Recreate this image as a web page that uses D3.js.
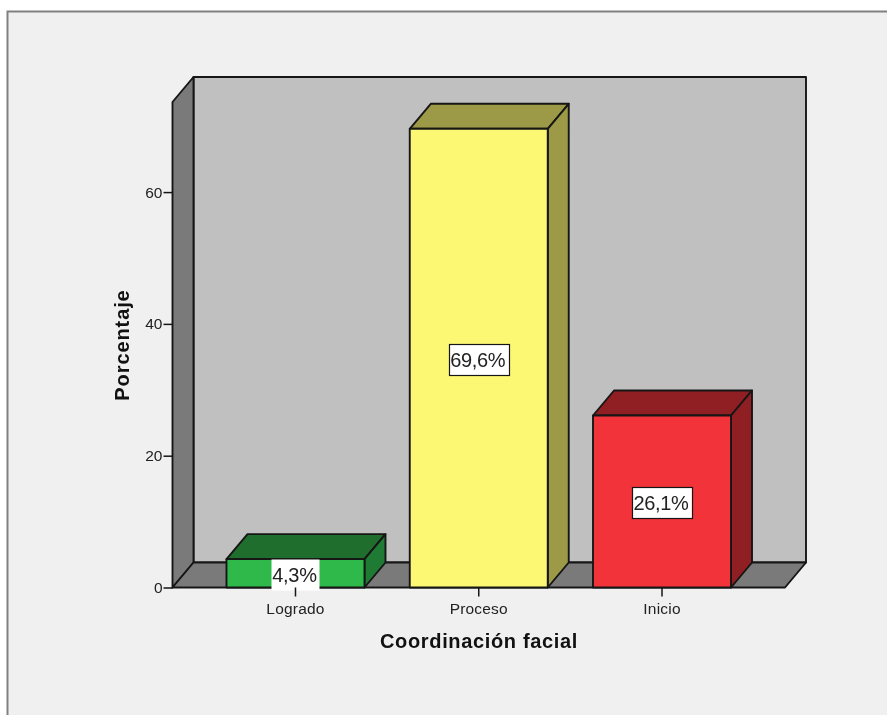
<!DOCTYPE html>
<html><head><meta charset="utf-8">
<script src="https://cdn.jsdelivr.net/npm/d3@7"></script>
<style>html,body{margin:0;padding:0;background:#fff}svg{display:block;filter:blur(0.45px)}text{font-family:"Liberation Sans",Arial,sans-serif;fill:#222}</style>
</head><body><svg id="c" width="887" height="717"></svg>
<script>
const categories = ["Logrado","Proceso","Inicio"];
const values = [4.3,69.6,26.1];
const valueLabels = ["4,3%","69,6%","26,1%"];
const frontColors = ["#2fb94b","#fdf873","#f23339"];
const sideColors = ["#1f7a33","#9c9947","#8f1f22"];
const topColors = ["#1f6e2e","#9c9947","#8f1f22"];
const yTicks = [0,20,40,60];
const xTitle = "Coordinación facial";
const yTitle = "Porcentaje";

const svg = d3.select("#c");
const stroke = "#161616";
const L=172.5,R=785,B=587.5,T=102,dx=21,dy=-25;
const x = d3.scaleBand().domain(categories).range([L,R]).paddingInner(0.247).paddingOuter(0.2946);
const y = d3.scaleLinear().domain([0,73.67]).range([B,T]);
const poly=(pts,fill,w=1.9)=>svg.append("polygon").attr("points",pts.map(p=>p.join(",")).join(" ")).attr("fill",fill).attr("stroke",stroke).attr("stroke-width",w).attr("stroke-linejoin","round");

// panel
svg.append("rect").attr("x",7.5).attr("y",11.5).attr("width",890).attr("height",720).attr("fill","#f0f0f0").attr("stroke","#808080").attr("stroke-width",2);
svg.append("rect").attr("x",0).attr("y",715).attr("width",887).attr("height",2).attr("fill","#fff");

// walls
poly([[L+dx,T+dy],[R+dx,T+dy],[R+dx,B+dy],[L+dx,B+dy]],"#c0c0c0");
poly([[L,T],[L+dx,T+dy],[L+dx,B+dy],[L,B]],"#7a7a7a");
poly([[L,B],[L+dx,B+dy],[R+dx,B+dy],[R,B]],"#7a7a7a");

// bars
categories.forEach((c,i)=>{
  const x0=x(c),x1=x0+x.bandwidth(),yt=y(values[i]);
  poly([[x0,yt],[x0+dx,yt+dy],[x1+dx,yt+dy],[x1,yt]],topColors[i]);
  poly([[x1,yt],[x1+dx,yt+dy],[x1+dx,B+dy],[x1,B]],sideColors[i]);
  poly([[x0,yt],[x1,yt],[x1,B],[x0,B]],frontColors[i]);
});

// value labels
categories.forEach((c,i)=>{
  const cx=x(c)+x.bandwidth()/2, cy=(y(values[i])+B)/2;
  const w=i===0?48:60, h=31;
  const ly=i===0?cy+1:cy+1.5;
  svg.append("rect").attr("x",Math.round(cx-w/2)+.5).attr("y",Math.round(ly-h/2)+.5).attr("width",w).attr("height",h)
    .attr("fill","#fff").attr("stroke",i===0?"none":stroke).attr("stroke-width",1.2);
  svg.append("text").attr("x",cx-1).attr("y",ly+7.2).attr("text-anchor","middle").attr("font-size",20).attr("letter-spacing",-0.3).text(valueLabels[i]);
});

// axes
const ay=d3.axisLeft(y).tickValues(yTicks).tickSize(9).tickPadding(1).tickFormat(d3.format("d"));
const gy=svg.append("g").attr("transform",`translate(${L},0)`).call(ay);
gy.select(".domain").remove();
gy.selectAll("line").attr("stroke",stroke).attr("stroke-width",1.5);
gy.selectAll("text").attr("font-size",15.5).style("fill","#222");

const ax=d3.axisBottom(x).tickSize(9).tickPadding(6);
const gx=svg.append("g").attr("transform",`translate(0,${B})`).call(ax);
gx.select(".domain").remove();
gx.selectAll("line").attr("stroke",stroke).attr("stroke-width",1.5);
gx.selectAll("text").attr("font-size",15.5).attr("letter-spacing",0.2).style("fill","#222");

svg.append("text").attr("x",479).attr("y",648).attr("text-anchor","middle").attr("font-size",20).attr("font-weight","bold").attr("letter-spacing",0.65).style("fill","#111").text(xTitle);
svg.append("text").attr("transform","translate(129,345) rotate(-90)").attr("text-anchor","middle").attr("font-size",20).attr("font-weight","bold").attr("letter-spacing",0.9).style("fill","#111").text(yTitle);
</script></body></html>
